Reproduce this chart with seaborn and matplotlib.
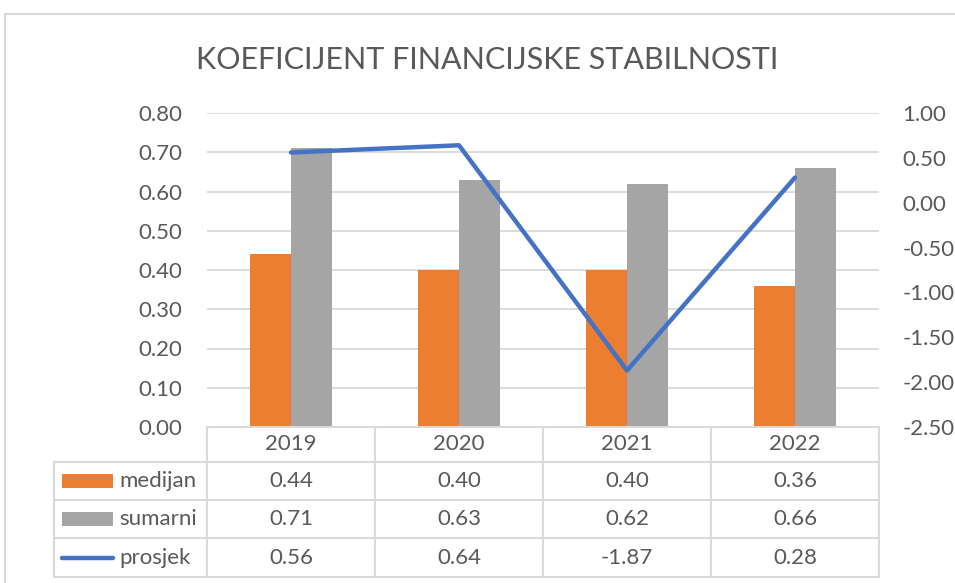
import matplotlib
matplotlib.use("Agg")
import matplotlib.pyplot as plt
import matplotlib.transforms as mtransforms
from matplotlib.lines import Line2D
from matplotlib.patches import Rectangle
import seaborn as sns
import pandas as pd
import numpy as np

# ---- data ----
title = "KOEFICIJENT FINANCIJSKE STABILNOSTI"
years = ["2019", "2020", "2021", "2022"]
medijan = [0.44, 0.40, 0.40, 0.36]
sumarni = [0.71, 0.63, 0.62, 0.66]
prosjek = [0.56, 0.64, -1.87, 0.28]
series_names = ["medijan", "sumarni", "prosjek"]
left_ticks = [0.0, 0.1, 0.2, 0.3, 0.4, 0.5, 0.6, 0.7, 0.8]
right_ticks = [-2.5, -2.0, -1.5, -1.0, -0.5, 0.0, 0.5, 1.0]

ORANGE = "#ED7D31"
GRAY = "#A5A5A5"
BLUE = "#4472C4"
TXT = "#595959"
GRID = "#D9D9D9"

W, H = 955, 583
def fx(px): return px / W
def fy(py): return 1 - py / H

sns.set_style("white")
plt.rcParams['font.family'] = ['Lato', 'DejaVu Sans']

fig = plt.figure(figsize=(W / 100, H / 100), dpi=100)
ax = fig.add_axes([fx(207), fy(427), (879 - 207) / W, (427 - 113) / H])

bars = pd.DataFrame({
    "year": years * 2,
    "series": ["medijan"] * len(years) + ["sumarni"] * len(years),
    "value": medijan + sumarni,
})
sns.barplot(data=bars, x="year", y="value", hue="series",
            palette=[ORANGE, GRAY], width=0.49, saturation=1,
            errorbar=None, legend=False, linewidth=0, ax=ax)

ax.set_xlim(-0.5, len(years) - 0.5)
ax.set_ylim(left_ticks[0], left_ticks[-1])
ax.set_yticks(left_ticks)
ax.set_yticklabels([f"{t:.2f}" for t in left_ticks])
ax.grid(axis="y", color=GRID, lw=1.3)
ax.grid(axis="x", visible=False)
ax.set_axisbelow(True)
for s in ax.spines.values():
    s.set_visible(False)
ax.tick_params(axis="y", left=False, length=0, pad=18, labelsize=16, labelcolor=TXT)
ax.tick_params(axis="x", bottom=False, labelbottom=False)
ax.set_xlabel("")
ax.set_ylabel("")

ax2 = ax.twinx()
line_df = pd.DataFrame({"pos": np.arange(len(years)), "value": prosjek})
sns.lineplot(data=line_df, x="pos", y="value", color=BLUE, lw=3.2,
             ax=ax2, solid_capstyle="round")
ax2.set_ylim(right_ticks[0], right_ticks[-1])
ax2.set_yticks(right_ticks)
ax2.set_yticklabels([f"{t:.2f}" for t in right_ticks])
ax2.grid(False)
for s in ax2.spines.values():
    s.set_visible(False)
ax2.tick_params(axis="y", right=False, length=0, pad=17, labelsize=16, labelcolor=TXT)
ax2.set_ylabel("")
ax2.set_xlabel("")
ax.set_xlim(-0.5, len(years) - 0.5)

# ---- data table ----
trans = mtransforms.blended_transform_factory(ax.transData, fig.transFigure)
row_edges = [427, 462, 500, 538, 577]
lkw = dict(color=GRID, lw=1.5, clip_on=False)
ax.add_line(Line2D([-0.5, len(years) - 0.5], [fy(427)] * 2, transform=trans, **lkw))
for py in row_edges[1:]:
    fig.add_artist(Line2D([fx(54), fx(879)], [fy(py)] * 2, **lkw))
for i in range(len(years) + 1):
    ax.add_line(Line2D([i - 0.5] * 2, [fy(427), fy(577)], transform=trans, **lkw))
fig.add_artist(Line2D([fx(54)] * 2, [fy(462), fy(577)], **lkw))

tkw = dict(fontsize=16, color=TXT, ha="center", va="center")
hdr_y = fy((427 + 462) / 2)
for i, y in enumerate(years):
    ax.text(i, hdr_y, y, transform=trans, **tkw)
rows = [medijan, sumarni, prosjek]
for r, vals in enumerate(rows):
    cy = fy((row_edges[r + 1] + row_edges[r + 2]) / 2)
    for i, v in enumerate(vals):
        ax.text(i, cy, f"{v:.2f}", transform=trans, **tkw)
    fig.text(fx(119), cy, series_names[r], fontsize=16, color=TXT,
             ha="left", va="center")

# legend keys
for r, col in enumerate([ORANGE, GRAY]):
    cy = (row_edges[r + 1] + row_edges[r + 2]) / 2
    fig.add_artist(Rectangle((fx(62), fy(cy + 7)), (113 - 62) / W, 14 / H,
                             transform=fig.transFigure, color=col, lw=0))
cy = fy((row_edges[3] + row_edges[4]) / 2)
fig.add_artist(Line2D([fx(62), fx(113)], [cy, cy], color=BLUE, lw=3.2,
                      solid_capstyle="round"))

# title
fig.text(fx(487), fy(60), title, fontsize=22, color=TXT, ha="center",
         va="center", fontweight="normal")

# chart border
fig.add_artist(Line2D([fx(5), fx(5), fx(955)], [fy(583), fy(14), fy(14)],
                      color=GRID, lw=1.5))

fig.savefig("out.png", dpi=100)
